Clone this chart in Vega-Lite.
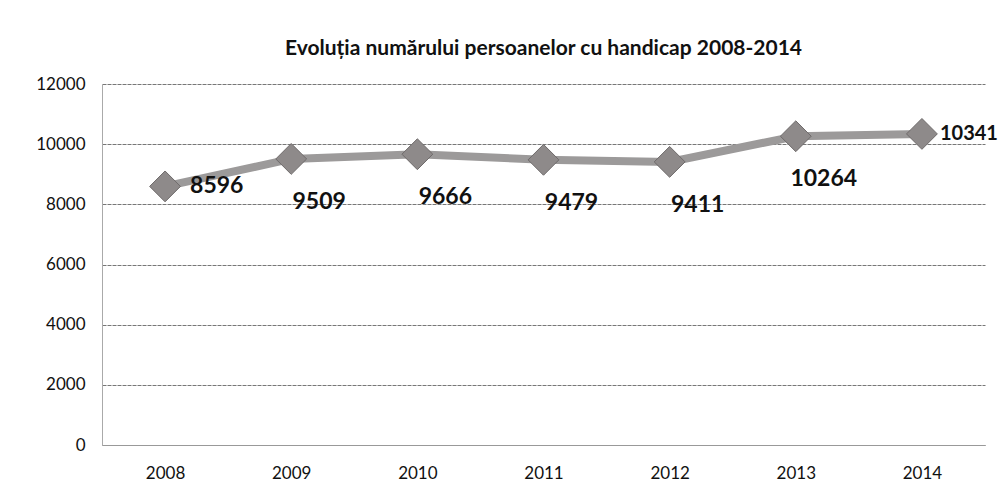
{
  "$schema": "https://vega.github.io/schema/vega-lite/v6.json",
  "autosize": "none",
  "width": 883,
  "height": 361,
  "padding": {"left": 102, "top": 84, "right": 18, "bottom": 52},
  "background": "white",
  "title": {
    "text": "Evoluția numărului persoanelor cu handicap 2008-2014",
    "font": "Lato",
    "fontSize": 21,
    "fontWeight": "bold",
    "color": "#111111",
    "anchor": "middle",
    "offset": 16
  },
  "config": {"view": {"stroke": null}},
  "data": {
    "values": [
      {"an": "2008", "valoare": 8596},
      {"an": "2009", "valoare": 9509},
      {"an": "2010", "valoare": 9666},
      {"an": "2011", "valoare": 9479},
      {"an": "2012", "valoare": 9411},
      {"an": "2013", "valoare": 10264},
      {"an": "2014", "valoare": 10341}
    ]
  },
  "encoding": {
    "x": {
      "field": "an",
      "type": "ordinal",
      "scale": {"type": "point", "padding": 0.5},
      "axis": {
        "title": null,
        "labelAngle": 0,
        "labelFont": "Lato",
        "labelFontSize": 17,
        "labelColor": "#111111",
        "labelPadding": 20,
        "ticks": false,
        "domainColor": "#999999",
        "grid": false
      }
    },
    "y": {
      "field": "valoare",
      "type": "quantitative",
      "scale": {"domain": [0, 12000]},
      "axis": {
        "title": null,
        "values": [0, 2000, 4000, 6000, 8000, 10000, 12000],
        "format": "d",
        "labelFont": "Lato",
        "labelFontSize": 17,
        "labelColor": "#111111",
        "labelPadding": 17,
        "ticks": false,
        "domainColor": "#aaaaaa",
        "gridColor": "#777777",
        "gridDash": [4, 1],
        "gridWidth": 1
      }
    }
  },
  "layer": [
    {
      "mark": {"type": "line", "color": "#9c9a9a", "strokeWidth": 8}
    },
    {
      "mark": {"type": "point", "shape": "diamond", "size": 950, "filled": true, "fill": "#8e8a8a", "stroke": "#6e6a6a", "strokeWidth": 1, "opacity": 1}
    },
    {
      "transform": [{"filter": "datum.an == '2008'"}],
      "mark": {"type": "text", "align": "left", "baseline": "middle", "dx": 25, "dy": 0, "font": "Lato", "fontSize": 23, "fontWeight": "bold", "color": "#111111"},
      "encoding": {"text": {"field": "valoare", "type": "quantitative", "format": "d"}}
    },
    {
      "transform": [{"filter": "datum.an == '2014'"}],
      "mark": {"type": "text", "align": "left", "baseline": "middle", "dx": 18, "dy": 0, "font": "Lato", "fontSize": 20, "fontWeight": "bold", "color": "#111111"},
      "encoding": {"text": {"field": "valoare", "type": "quantitative", "format": "d"}}
    },
    {
      "transform": [{"filter": "datum.an != '2008' && datum.an != '2014'"}],
      "mark": {"type": "text", "align": "center", "baseline": "middle", "dx": 28, "dy": 43, "font": "Lato", "fontSize": 23, "fontWeight": "bold", "color": "#111111"},
      "encoding": {"text": {"field": "valoare", "type": "quantitative", "format": "d"}}
    }
  ]
}
